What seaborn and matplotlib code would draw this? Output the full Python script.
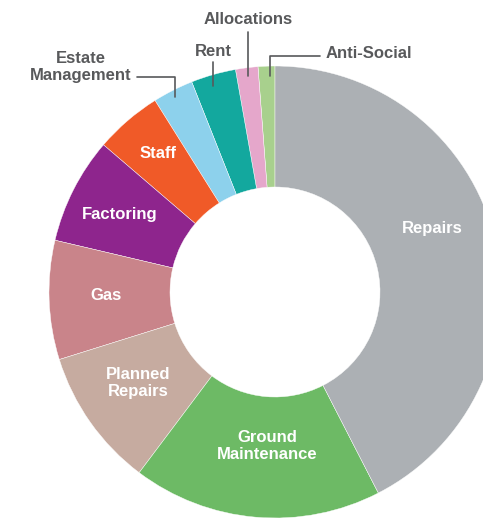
import numpy as np
import seaborn as sns
from matplotlib import pyplot as plt

# slices, counter-clockwise from 12 o'clock
categories = ['Anti-Social', 'Allocations', 'Rent', 'Estate Management', 'Staff',
              'Factoring', 'Gas', 'Planned Repairs', 'Ground Maintenance', 'Repairs']
values = [1.2, 1.6, 3.2, 2.9, 4.8, 7.6, 8.5, 9.9, 17.8, 42.4]
colors = ['#A8D08D', '#E5A7CB', '#13A89E', '#8DD1EC', '#F05A28',
          '#8E258D', '#C9848A', '#C6ABA0', '#6DBA65', '#ACB0B4']

W, H = 483, 519
CX, CY = 275, 292          # pixel centre of the ring
R_OUT, R_IN = 226, 105

sns.set_theme(style='white')
plt.rcParams['font.family'] = ['Liberation Sans Narrow', 'Liberation Sans', 'DejaVu Sans']

fig = plt.figure(figsize=(W / 100, H / 100), dpi=100)
ax = fig.add_axes([0, 0, 1, 1])

pal = sns.color_palette(colors)
ax.pie(values, colors=pal, startangle=90, counterclock=True,
       center=(CX, H - CY), radius=R_OUT, frame=False,
       wedgeprops=dict(width=R_OUT - R_IN, edgecolor='white', linewidth=0.3))

ax.set_xlim(0, W)
ax.set_ylim(0, H)
ax.set_aspect('equal')
ax.axis('off')

# white labels inside the ring (pixel positions)
inside = {
    'Repairs': (432, 228),
    'Ground Maintenance': (267, 446),
    'Planned Repairs': (138, 383),
    'Gas': (106, 296),
    'Factoring': (120, 215),
    'Staff': (158, 154),
}
for name, (x, y) in inside.items():
    txt = name.replace(' ', '\n') if name in ('Ground Maintenance', 'Planned Repairs') else name
    ax.text(x, H - y, txt, color='white', fontsize=12, fontweight='bold',
            ha='center', va='center', linespacing=1.2)

# outside labels with leader lines
grey = '#58595B'
outside = {
    'Estate Management': ((81, 67), [(137, 77), (175, 77), (175, 97)], 'center'),
    'Rent': ((213, 52), [(213, 62), (213, 86)], 'center'),
    'Allocations': ((248, 20), [(248, 32), (248, 76)], 'center'),
    'Anti-Social': ((326, 54), [(320, 56), (270, 56), (270, 76)], 'left'),
}
for name, ((x, y), pts, ha) in outside.items():
    txt = name.replace(' ', '\n') if name == 'Estate Management' else name
    ax.text(x, H - y, txt, color=grey, fontsize=12, fontweight='bold',
            ha=ha, va='center', linespacing=1.2)
    xs = [p[0] for p in pts]
    ys = [H - p[1] for p in pts]
    ax.plot(xs, ys, color=grey, lw=1.2)

plt.savefig('out.png', dpi=100)
plt.close()
